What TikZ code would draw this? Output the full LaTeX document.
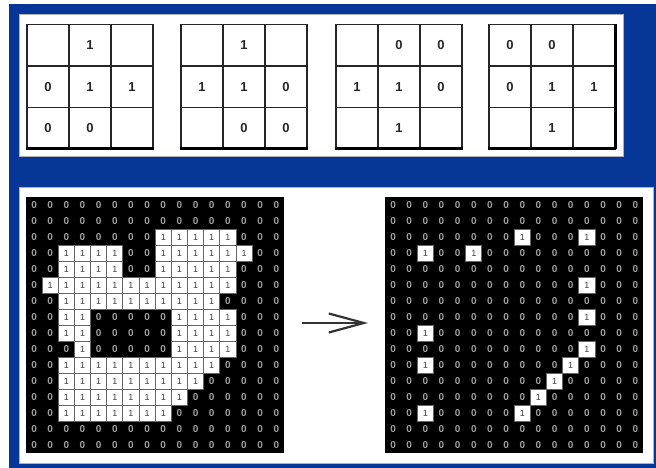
\documentclass[tikz,border=0pt]{standalone}
\usepackage{fontspec}
\setmainfont{Liberation Sans}
\usetikzlibrary{arrows.meta}
\definecolor{bgblue}{RGB}{6,54,152}
\makeatletter
\newcommand\pixclass[2]{\edef\@tempa{\noexpand\in@{,#1,}{,#2,}}\@tempa\ifin@\def\pixval{1}\else\def\pixval{0}\fi}
\makeatother
\newcommand\whiteL{r2c8,r2c9,r2c10,r2c11,r2c12,%
r3c2,r3c3,r3c4,r3c5,r3c8,r3c9,r3c10,r3c11,r3c12,r3c13,%
r4c2,r4c3,r4c4,r4c5,r4c8,r4c9,r4c10,r4c11,r4c12,%
r5c1,r5c2,r5c3,r5c4,r5c5,r5c6,r5c7,r5c8,r5c9,r5c10,r5c11,r5c12,%
r6c2,r6c3,r6c4,r6c5,r6c6,r6c7,r6c8,r6c9,r6c10,r6c11,%
r7c2,r7c3,r7c9,r7c10,r7c11,r7c12,%
r8c2,r8c3,r8c9,r8c10,r8c11,r8c12,%
r9c3,r9c9,r9c10,r9c11,r9c12,%
r10c2,r10c3,r10c4,r10c5,r10c6,r10c7,r10c8,r10c9,r10c10,r10c11,%
r11c2,r11c3,r11c4,r11c5,r11c6,r11c7,r11c8,r11c9,r11c10,%
r12c2,r12c3,r12c4,r12c5,r12c6,r12c7,r12c8,r12c9,%
r13c2,r13c3,r13c4,r13c5,r13c6,r13c7,r13c8}
\newcommand\whiteR{r2c8,r2c12,r3c2,r3c5,r5c12,r7c12,r8c2,r9c12,r10c2,r10c11,r11c10,r12c9,r13c2,r13c8}
\tikzset{
  panel/.style={rectangle, fill=white, draw=black!30, line width=1pt, inner sep=0pt, outer sep=0pt, anchor=north west},
  tcell/.style={rectangle, minimum width=42pt, minimum height=41.5pt, inner sep=0pt, outer sep=0pt,
    draw=black!85, line width=1.8pt, font=\bfseries\fontsize{13}{13}\selectfont, text=black!85},
  grid/.style={rectangle, fill=black, inner sep=0pt, outer sep=0pt, anchor=north west,
    minimum width=258.4pt, minimum height=256pt},
  pix/.style={rectangle, minimum width=16.15pt, minimum height=16pt, inner sep=0pt, outer sep=0pt},
  pixoff/.style={pix, text=black!38, font=\bfseries\fontsize{10}{10}\selectfont},
  pixon/.style={pix, fill=white, draw=black!60, line width=0.9pt, text=black!75, font=\fontsize{9}{9}\selectfont},
  arr/.style={draw=black!80, line width=2.5pt, -{Straight Barb[length=35pt,width=19pt,line width=2.2pt]}}
}
\begin{document}
\begin{tikzpicture}[x=1pt,y=-1pt]
\useasboundingbox (0,0) rectangle (656,468);
\fill[white] (0,0) rectangle (656,468);
\fill[bgblue] (9,4) rectangle (656,468);
% panels
\node[panel, minimum width=604pt, minimum height=142pt] (toppanel) at (19,15) {};
\node[panel, minimum width=634pt, minimum height=276pt] (botpanel) at (19,187) {};
% top 3x3 grids
\foreach \g/\gx/\vals in {1/27/{2,1,2,0,1,1,0,0,2}, 2/181/{2,1,2,1,1,0,2,0,0}, 3/336/{2,0,0,1,1,0,2,1,2}, 4/489/{0,0,2,0,1,1,2,1,2}} {
  \foreach \k in {0,...,8} {
    \pgfmathtruncatemacro\row{div(\k,3)}
    \pgfmathtruncatemacro\col{mod(\k,3)}
    \pgfmathtruncatemacro\v{{\vals}[\k]}
    \ifnum\v=2 \def\txt{}\else\edef\txt{\v}\fi
    \node[tcell] (T\g-\row-\col) at ({\gx+21+42*\col},{24.5+20.75+41.5*\row}) {\txt};
  }
  \draw[line width=3pt, black] ([xshift=-1pt]T\g-2-0.south west) -- ([xshift=1pt]T\g-2-2.south east);
}
\draw[line width=3pt, black] (T4-0-2.north east) -- (T4-2-2.south east);
% pixel grids
\node[grid] (gL) at (26,197) {};
\node[grid] (gR) at (385,197) {};
\foreach \row in {0,...,15} {
  \foreach \col in {0,...,15} {
    \pixclass{r\row c\col}{\whiteL}
    \ifnum\pixval=1
      \node[pixon] (L-\row-\col) at ({26+8.075+16.15*\col},{197+8+16*\row}) {1};
    \else
      \node[pixoff] (L-\row-\col) at ({26+8.075+16.15*\col},{197+8+16*\row}) {0};
    \fi
    \pixclass{r\row c\col}{\whiteR}
    \ifnum\pixval=1
      \node[pixon] (R-\row-\col) at ({385+8.075+16.15*\col},{197+8+16*\row}) {1};
    \else
      \node[pixoff] (R-\row-\col) at ({385+8.075+16.15*\col},{197+8+16*\row}) {0};
    \fi
  }
}
% arrow
\draw[arr, shorten <=18pt, shorten >=17pt] ([yshift=2pt]gL.east) -- ([yshift=2pt]gR.west);
\end{tikzpicture}
\end{document}
